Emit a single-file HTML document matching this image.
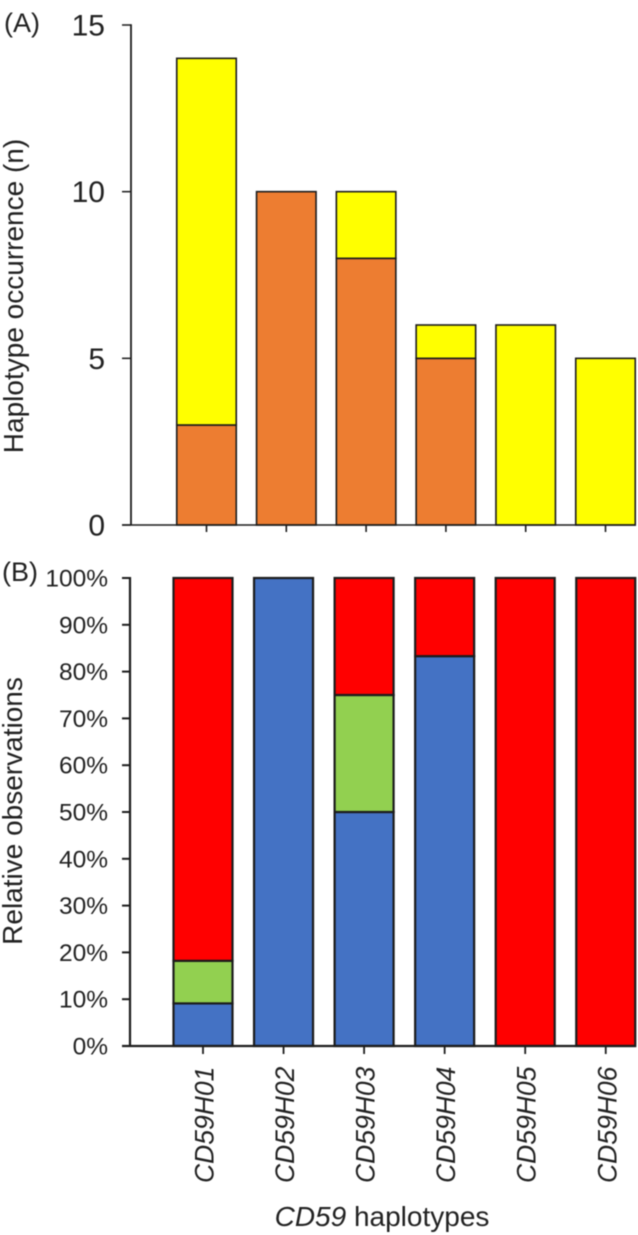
<!DOCTYPE html>
<html>
<head>
<meta charset="utf-8">
<title>CD59 haplotypes</title>
<style>
html,body{margin:0;padding:0;background:#fff;width:638px;height:1235px;overflow:hidden}
svg{display:block;filter:blur(0.4px)}
text{font-family:"Liberation Sans",Arial,sans-serif;fill:#222}
</style>
</head>
<body>
<svg id="chart" xmlns="http://www.w3.org/2000/svg" width="638" height="1235" viewBox="0 0 638 1235">
  <text x="4" y="32" font-size="27">(A)</text>
  <text x="2" y="581" font-size="27">(B)</text>
  <text transform="translate(23,296) rotate(-90)" text-anchor="middle" font-size="28">Haplotype occurrence (n)</text>
  <text transform="translate(22,811) rotate(-90)" text-anchor="middle" font-size="28">Relative observations</text>
  <text x="382" y="1226" text-anchor="middle" font-size="28"><tspan font-style="italic">CD59</tspan> haplotypes</text>
</svg>
<script>
const categories = ['CD59H01', 'CD59H02', 'CD59H03', 'CD59H04', 'CD59H05', 'CD59H06'];
const occurrenceOrange = [3, 10, 8, 5, 0, 0];
const occurrenceYellow = [11, 0, 2, 1, 6, 5];
const occurrenceTicks = [0, 5, 10, 15];
const relativeBlue = [9.1, 100, 50, 83.3, 0, 0];
const relativeGreen = [9.1, 0, 25, 0, 0, 0];
const relativeRed = [81.8, 0, 25, 16.7, 100, 100];
const relativeTicks = [0, 10, 20, 30, 40, 50, 60, 70, 80, 90, 100];

const svg = document.getElementById('chart');
const NS = 'http://www.w3.org/2000/svg';
const INK = '#1c1c1c';

function make(tag, attrs, parent) {
  const el = document.createElementNS(NS, tag);
  for (const k in attrs) el.setAttribute(k, attrs[k]);
  (parent || svg).appendChild(el);
  return el;
}
function linear(d0, d1, r0, r1) {
  return v => r0 + (v - d0) / (d1 - d0) * (r1 - r0);
}

/* Panel A */
const yA = linear(0, 15, 525, 25);
const xA = i => 206.5 + i * 79.8;
const widthA = 59.5;

categories.forEach((c, i) => {
  const base = occurrenceOrange[i];
  const total = base + occurrenceYellow[i];
  if (base > 0) {
    const r = make('rect', {x: xA(i) - widthA / 2, y: yA(base), width: widthA, height: yA(0) - yA(base), fill: '#ed7d31', stroke: INK, 'stroke-width': 1.6});
    
    
  }
  if (occurrenceYellow[i] > 0) {
    const r = make('rect', {x: xA(i) - widthA / 2, y: yA(total), width: widthA, height: yA(base) - yA(total), fill: '#ffff00', stroke: INK, 'stroke-width': 1.6});
    
    
  }
  const t = make('line', {x1: xA(i), x2: xA(i), y1: yA(0), y2: yA(0) + 7, stroke: INK, 'stroke-width': 1.6});
  
  
});

const axisAY = make('line', {x1: 131, x2: 131, y1: yA(15) - 0.7, y2: yA(0), stroke: INK, 'stroke-width': 1.8});


const axisAX = make('line', {x1: 122, x2: 636, y1: yA(0), y2: yA(0), stroke: INK, 'stroke-width': 1.6});



occurrenceTicks.forEach(v => {
  const t = make('line', {x1: 122, x2: 131, y1: yA(v), y2: yA(v), stroke: INK, 'stroke-width': 1.5});
  
  
  const l = make('text', {x: 105, y: yA(v) + 10.5, 'text-anchor': 'end', 'font-size': 30});
  l.textContent = v;
  
  
});

/* Panel B */
const yB = linear(0, 100, 1046, 578);
const xB = i => 203 + i * 80.55;
const widthB = 59;

categories.forEach((c, i) => {
  const b = relativeBlue[i], g = relativeGreen[i], r = relativeRed[i];
  if (b > 0) {
    const s = make('rect', {x: xB(i) - widthB / 2, y: yB(b), width: widthB, height: yB(0) - yB(b), fill: '#4472c4', stroke: INK, 'stroke-width': 2.2});
    
    
  }
  if (g > 0) {
    const s = make('rect', {x: xB(i) - widthB / 2, y: yB(b + g), width: widthB, height: yB(b) - yB(b + g), fill: '#92d050', stroke: INK, 'stroke-width': 2.2});
    
    
  }
  if (r > 0) {
    const s = make('rect', {x: xB(i) - widthB / 2, y: yB(b + g + r), width: widthB, height: yB(b + g) - yB(b + g + r), fill: '#ff0000', stroke: INK, 'stroke-width': 2.2});
    
    
  }
  const t = make('line', {x1: xB(i), x2: xB(i), y1: yB(0), y2: yB(0) + 8, stroke: INK, 'stroke-width': 1.8});
  
  
  const l = make('text', {transform: 'translate(' + (xB(i) + 10.5) + ',1183) rotate(-90)', 'font-size': 26.5, 'font-style': 'italic'});
  l.textContent = c;
  
  
});

const axisBY = make('line', {x1: 130, x2: 130, y1: yB(100) - 1, y2: yB(0), stroke: INK, 'stroke-width': 2.2});


const axisBX = make('line', {x1: 122, x2: 636, y1: yB(0), y2: yB(0), stroke: INK, 'stroke-width': 2.2});



relativeTicks.forEach(v => {
  const t = make('line', {x1: 122, x2: 130, y1: yB(v), y2: yB(v), stroke: INK, 'stroke-width': 2});
  
  
  const l = make('text', {x: 108, y: yB(v) + 8.5, 'text-anchor': 'end', 'font-size': 24.5});
  l.textContent = v + '%';
  
  
});
</script>
</body>
</html>
